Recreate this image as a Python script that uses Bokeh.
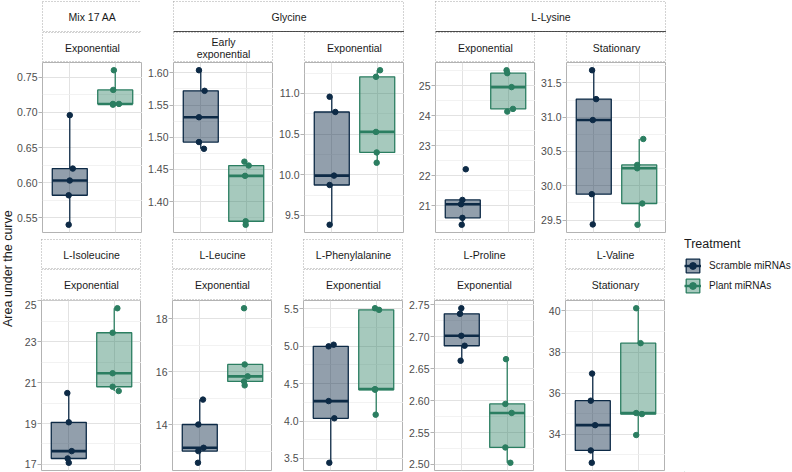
import numpy as np
from bokeh.plotting import figure
from bokeh.models import (Range1d, FixedTicker, Label, Span, Legend, LegendItem,
                          ColumnDataSource, Div)
from bokeh.layouts import row, column
from bokeh.embed import file_html
from bokeh.resources import INLINE

FONT = "Liberation Sans"

treatments = ["Scramble miRNAs", "Plant miRNAs"]
treat_colors = ["#0D2A46", "#2B7E61"]
box_alpha = [0.45, 0.42]
y_title = "Area under the curve"

# ---- measurements (5 replicates per treatment) --------------------------
# Mix 17 AA, exponential
mix17_scr = [0.696, 0.620, 0.603, 0.582, 0.540]
mix17_pla = [0.760, 0.732, 0.712, 0.712, 0.711]
mix17_whisk = [(0.540, 0.696), (0.711, 0.760)]
mix17_ticks = ["0.55", "0.60", "0.65", "0.70", "0.75"]

# Glycine, early exponential
glyee_scr = [1.604, 1.572, 1.531, 1.4925, 1.482]
glyee_pla = [1.462, 1.456, 1.440, 1.3695, 1.364]
glyee_whisk = [(1.482, 1.604), (1.364, 1.462)]
glyee_ticks = ["1.40", "1.45", "1.50", "1.55", "1.60"]

# Glycine, exponential
glyex_scr = [10.959, 10.772, 9.990, 9.875, 9.386]
glyex_pla = [11.285, 11.204, 10.527, 10.275, 10.148]
glyex_whisk = [(9.386, 10.959), (10.148, 11.285)]
glyex_ticks = ["9.5", "10.0", "10.5", "11.0"]

# L-Lysine, exponential
lysex_scr = [22.22, 21.198, 21.055, 20.60, 20.37]
lysex_pla = [25.518, 25.42, 24.956, 24.23, 24.14]
lysex_whisk = [(20.37, 21.198), (24.14, 25.518)]
lysex_ticks = ["21", "22", "23", "24", "25"]

# L-Lysine, stationary
lysst_scr = [31.684, 31.263, 30.958, 29.878, 29.437]
lysst_pla = [30.682, 30.304, 30.255, 29.742, 29.432]
lysst_whisk = [(29.437, 31.684), (29.432, 30.682)]
lysst_ticks = ["29.5", "30.0", "30.5", "31.0", "31.5"]

# L-Isoleucine, exponential
ile_scr = [20.49, 19.06, 17.65, 17.29, 17.08]
ile_pla = [24.64, 23.44, 21.46, 20.80, 20.59]
ile_whisk = [(17.08, 20.49), (20.59, 24.64)]
ile_ticks = ["17", "19", "21", "23", "25"]

# L-Leucine, exponential
leu_scr = [14.953, 14.013, 13.135, 13.01, 12.57]
leu_pla = [18.40, 16.28, 15.83, 15.64, 15.49]
leu_whisk = [(12.57, 14.953), (15.49, 16.28)]
leu_ticks = ["14", "16", "18"]

# L-Phenylalanine, exponential
phe_scr = [5.021, 4.999, 4.267, 4.037, 3.442]
phe_pla = [5.509, 5.487, 4.427, 4.42, 4.085]
phe_whisk = [(3.442, 5.021), (4.085, 5.509)]
phe_ticks = ["3.5", "4.0", "4.5", "5.0", "5.5"]

# L-Proline, exponential
pro_scr = [2.7448, 2.736, 2.7016, 2.686, 2.6625]
pro_pla = [2.665, 2.5948, 2.5807, 2.5266, 2.5026]
pro_whisk = [(2.6625, 2.7448), (2.5026, 2.665)]
pro_ticks = ["2.50", "2.55", "2.60", "2.65", "2.70", "2.75"]

# L-Valine, stationary
val_scr = [36.95, 35.63, 34.44, 33.21, 32.61]
val_pla = [40.13, 38.43, 35.03, 34.98, 33.96]
val_whisk = [(32.61, 36.95), (33.96, 40.13)]
val_ticks = ["34", "36", "38", "40"]

# horizontal jitter applied to the replicate points
mix17_jit = [[0, .066, 0, -.024, -.024], [-.03, -.044, -.051, .082, -.05]]
glyee_jit = [[-.04, .084, -.04, -.04, .07], [-.04, .054, -.026, -.012, -.012]]
glyex_jit = [[-.047, .078, .049, -.047, -.047], [.062, -.027, -.027, -.012, -.012]]
lysex_jit = [[.066, -.008, -.038, -.008, -.023], [-.036, -.021, .073, .104, -.021]]
lysst_jit = [[-.037, .052, -.022, -.044, -.022], [.089, -.044, -.044, .067, -.037]]
ile_jit = [[-.032, 0, .064, -.024, 0], [.069, -.035, -.035, -.035, .098]]
leu_jit = [[.07, -.032, .084, -.032, -.04], [-.026, -.012, .054, -.026, -.012]]
phe_jit = [[.063, -.047, -.047, .078, -.032], [-.027, .062, -.027, -.027, -.012]]
pro_jit = [[-.01, -.04, -.01, .063, -.025], [-.027, -.041, .098, -.041, .069]]
val_jit = [[-.015, -.044, .052, -.044, -.022], [-.044, .052, -.044, .081, -.044]]

# ---- geometry ------------------------------------------------------------
FW = 100          # panel frame width
PH = 170          # panel frame height
BOX_W = 0.77
GRID_MAJOR = "#E2E2E2"
GRID_MINOR = "#EFEFEF"


def bare(fig):
    fig.xgrid.visible = False
    fig.ygrid.visible = False
    return fig


def strip(text, left, width, height, top=0, nested=False):
    s = figure(frame_width=width, frame_height=height, min_border_left=left,
               min_border_right=0, min_border_top=top, min_border_bottom=0,
               x_range=Range1d(0, 1), y_range=Range1d(0, 1),
               x_axis_location=None, y_axis_location=None,
               toolbar_location=None, output_backend="svg")
    bare(s)
    s.outline_line_color = "#A6A6A6"
    s.outline_line_dash = "1 2"
    s.outline_line_width = 1
    s.add_layout(Label(x=0.5, y=0.5, text=text, text_align="center",
                       text_baseline="middle", text_font_size="10.5px",
                       text_color="#1A1A1A", text_font=FONT,
                       text_line_height=1.0))
    if nested:
        s.add_layout(Span(location=0.02, dimension="width",
                          line_color="#1A1A1A", line_width=1.3))
    return s


def panel(scr, pla, jit, whisk, tick_labels, left, bottom):
    groups = [np.array(scr, float), np.array(pla, float)]
    allv = np.concatenate(groups + [np.array(whisk, float).ravel()])
    lo, hi = allv.min(), allv.max()
    pad = 0.05 * (hi - lo)
    p = figure(frame_width=FW, frame_height=PH, min_border_left=left,
               min_border_right=0, min_border_top=0, min_border_bottom=bottom,
               x_range=Range1d(0.4, 2.6), y_range=Range1d(lo - pad, hi + pad),
               x_axis_location=None, toolbar_location=None,
               output_backend="svg")
    p.outline_line_color = "#B3B3B3"
    p.outline_line_width = 1

    majors = [float(t) for t in tick_labels]
    step = majors[1] - majors[0]
    minors = [m + step / 2 for m in [majors[0] - step] + majors]
    ticker = FixedTicker(ticks=majors, minor_ticks=minors)
    p.yaxis.ticker = ticker
    p.ygrid.ticker = ticker
    p.xgrid.ticker = FixedTicker(ticks=[1, 2])
    for g in (p.xgrid, p.ygrid):
        g.grid_line_color = GRID_MAJOR
        g.grid_line_width = 1
    p.ygrid.minor_grid_line_color = GRID_MINOR
    p.ygrid.minor_grid_line_width = 0.8

    ax = p.yaxis[0]
    ax.major_label_overrides = {m: t for m, t in zip(majors, tick_labels)}
    ax.axis_line_color = None
    ax.major_tick_line_color = "#B3B3B3"
    ax.major_tick_out = 4
    ax.major_tick_in = 0
    ax.minor_tick_line_color = None
    ax.major_label_standoff = 1
    ax.major_label_text_font = FONT
    ax.major_label_text_font_size = "10.5px"
    ax.major_label_text_color = "#4D4D4D"

    xs = np.array([1.0, 2.0])
    q1 = np.array([np.percentile(g, 25) for g in groups])
    med = np.array([np.percentile(g, 50) for g in groups])
    q3 = np.array([np.percentile(g, 75) for g in groups])
    wlo = np.array([w[0] for w in whisk])
    whi = np.array([w[1] for w in whisk])

    for i in range(2):
        c = treat_colors[i]
        # whiskers
        p.segment(x0=[xs[i], xs[i]], x1=[xs[i], xs[i]], y0=[q3[i], q1[i]],
                  y1=[whi[i], wlo[i]], line_color=c, line_width=1.3)
        # box
        p.vbar(x=[xs[i]], width=BOX_W, bottom=[q1[i]], top=[q3[i]],
               fill_color=c, fill_alpha=box_alpha[i], line_color=c,
               line_width=1.3)
        # median
        p.segment(x0=[xs[i] - BOX_W / 2], x1=[xs[i] + BOX_W / 2],
                  y0=[med[i]], y1=[med[i]], line_color=c, line_width=2.6)
    for i in range(2):
        px = xs[i] + np.array(jit[i], float)
        p.scatter(x=px, y=groups[i], size=5.5, color=treat_colors[i])
    return p


specs_top = [
    (mix17_scr, mix17_pla, mix17_jit, mix17_whisk, mix17_ticks),
    (glyee_scr, glyee_pla, glyee_jit, glyee_whisk, glyee_ticks),
    (glyex_scr, glyex_pla, glyex_jit, glyex_whisk, glyex_ticks),
    (lysex_scr, lysex_pla, lysex_jit, lysex_whisk, lysex_ticks),
    (lysst_scr, lysst_pla, lysst_jit, lysst_whisk, lysst_ticks),
]
specs_bottom = [
    ("L-Isoleucine", "Exponential", ile_scr, ile_pla, ile_jit, ile_whisk, ile_ticks),
    ("L-Leucine", "Exponential", leu_scr, leu_pla, leu_jit, leu_whisk, leu_ticks),
    ("L-Phenylalanine", "Exponential", phe_scr, phe_pla, phe_jit, phe_whisk, phe_ticks),
    ("L-Proline", "Exponential", pro_scr, pro_pla, pro_jit, pro_whisk, pro_ticks),
    ("L-Valine", "Stationary", val_scr, val_pla, val_jit, val_whisk, val_ticks),
]

LEFTS = [27, 31, 31, 31, 31]

# ---- top row: nested strips ------------------------------------------------
tp = [panel(*s, LEFTS[i], 7) for i, s in enumerate(specs_top)]
col_mix = column(strip("Mix 17 AA", LEFTS[0], FW, 31, top=1),
                 strip("Exponential", LEFTS[0], FW, 30), tp[0], spacing=0)
col_gly = column(
    strip("Glycine", 31, 2 * FW + 31, 31, top=1, nested=True),
    row(column(strip("Early\nexponential", 31, FW, 30), tp[1], spacing=0),
        column(strip("Exponential", 31, FW, 30), tp[2], spacing=0), spacing=0),
    spacing=0)
col_lys = column(
    strip("L-Lysine", 31, 2 * FW + 31, 31, top=1, nested=True),
    row(column(strip("Exponential", 31, FW, 30), tp[3], spacing=0),
        column(strip("Stationary", 31, FW, 30), tp[4], spacing=0), spacing=0),
    spacing=0)
top_row = row(col_mix, col_gly, col_lys, spacing=0)

# ---- bottom row -------------------------------------------------------------
bcols = []
for i, (aa, phase, scr, pla, jit, whisk, ticks) in enumerate(specs_bottom):
    bcols.append(column(strip(aa, LEFTS[i], FW, 30),
                        strip(phase, LEFTS[i], FW, 31),
                        panel(scr, pla, jit, whisk, ticks, LEFTS[i], 2),
                        spacing=0))
bottom_row = row(*bcols, spacing=0)

main = column(top_row, bottom_row, spacing=0)

# ---- shared y-axis title, centred on the panel rows (62..470 px) ------------
yt = Div(
    text=('<div style="position:absolute;left:0;top:0;white-space:nowrap;'
          "font-family:'Liberation Sans',sans-serif;font-size:12.5px;"
          'line-height:14px;color:#1A1A1A;transform-origin:0 0;'
          'transform:translate(1px,327px) rotate(-90deg);">'
          + y_title + '</div>'),
    width=14, height=472, margin=0)

# ---- legend -----------------------------------------------------------------
lf = figure(frame_width=109, frame_height=235, min_border_left=18,
            min_border_top=237, min_border_right=0, min_border_bottom=0,
            x_range=Range1d(0, 1), y_range=Range1d(0, 1),
            x_axis_location=None, y_axis_location=None,
            toolbar_location=None, output_backend="svg")
bare(lf)
lf.outline_line_color = None
items = []
for i, t in enumerate(treatments):
    c = treat_colors[i]
    # legend-only renderers, kept outside the visible range
    src = ColumnDataSource(dict(x=[-10.0], y=[-10.0]))
    rb = lf.vbar(x="x", top="y", bottom=-11, width=0.1, source=src,
                 fill_color=c, fill_alpha=box_alpha[i], line_color=c,
                 line_width=1.3)
    rm = lf.segment(x0="x", y0="y", x1="x", y1="y", source=src,
                    line_color=c, line_width=2.4)
    rp = lf.scatter(x="x", y="y", source=src, size=5.5, color=c)
    items.append(LegendItem(label=t, renderers=[rb, rm, rp]))
legend = Legend(items=items, title="Treatment", location="top_left",
                margin=0, padding=0, spacing=0, border_line_color=None,
                background_fill_alpha=0, glyph_width=17, glyph_height=17,
                label_height=20, label_standoff=8, title_standoff=4,
                label_text_font=FONT, label_text_font_size="10px",
                label_text_color="#1A1A1A", title_text_font=FONT,
                title_text_font_size="12.5px", title_text_font_style="normal",
                title_text_color="#1A1A1A")
lf.add_layout(legend)

root = row(yt, main, lf, spacing=0)

open("out.html", "w").write(file_html(root, INLINE))
